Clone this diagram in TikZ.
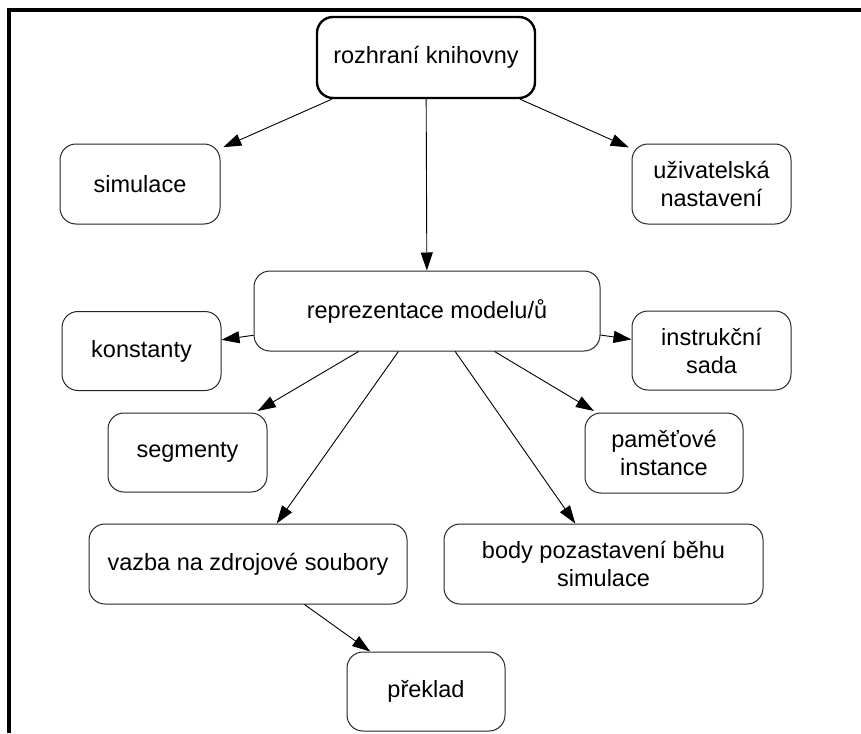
\documentclass[tikz,border=0pt]{standalone}
\usepackage{fontspec}
\setmainfont{Liberation Sans}
\usetikzlibrary{arrows.meta}

\tikzset{
  box/.style={draw=black!85, line width=1pt, rounded corners=16pt, fill=white,
              align=center, inner sep=0pt, font=\fontsize{23.5}{28}\selectfont},
  rootbox/.style={box, draw=black, line width=2.4pt},
  link/.style={draw=black, line width=0.9pt,
               -{Triangle[length=18pt,width=12pt]}},
  frame/.style={line width=4pt, line cap=butt}
}

\begin{document}
\begin{tikzpicture}[x=1pt, y=-1pt]
  \useasboundingbox (0,0) rectangle (861,733);

  % open frame: top and left edges only
  \coordinate (fr1) at (9,733);
  \coordinate (fr2) at (9,10);
  \coordinate (fr3) at (861,10);
  \draw[frame] (fr1) -- (fr2) -- (fr3);

  % nodes
  \node[rootbox, minimum width=218pt, minimum height=81pt] (root) at (426,57.5) {rozhraní knihovny};
  \node[box, minimum width=160pt, minimum height=80pt] (sim) at (140,184) {simulace};
  \node[box, minimum width=159pt, minimum height=80pt] (usr) at (711.5,184) {uživatelská\\nastavení};
  \node[box, minimum width=346pt, minimum height=80pt] (rep) at (427,311) {reprezentace modelu/ů};
  \node[box, minimum width=159pt, minimum height=79pt] (kon) at (141.5,351) {konstanty};
  \node[box, minimum width=159pt, minimum height=79pt] (ins) at (711.5,350.5) {instrukční\\sada};
  \node[box, minimum width=159pt, minimum height=79pt] (seg) at (187.5,452.5) {segmenty};
  \node[box, minimum width=158pt, minimum height=80pt] (pam) at (664,453) {paměťové\\instance};
  \node[box, minimum width=318pt, minimum height=80pt] (vaz) at (248,564) {vazba na zdrojové soubory};
  \node[box, minimum width=319pt, minimum height=80pt] (bod) at (603.5,564) {body pozastavení běhu\\simulace};
  \node[box, minimum width=158pt, minimum height=79pt] (pre) at (426,691.5) {překlad};

  % connectors
  \draw[link, shorten >=3pt] (root) -- (sim);
  \draw[link, shorten >=3pt] (root) -- (usr);
  \draw[link] (root) -- (rep);
  \draw[link] (rep) -- (kon);
  \draw[link] (rep) -- (ins);
  \draw[link, shorten >=3pt] (rep) -- (seg);
  \draw[link, shorten >=3pt] (rep) -- (pam);
  \draw[link] (rep) -- (vaz);
  \draw[link] (rep) -- (bod);
  \draw[link] (vaz) -- (pre);
\end{tikzpicture}
\end{document}
